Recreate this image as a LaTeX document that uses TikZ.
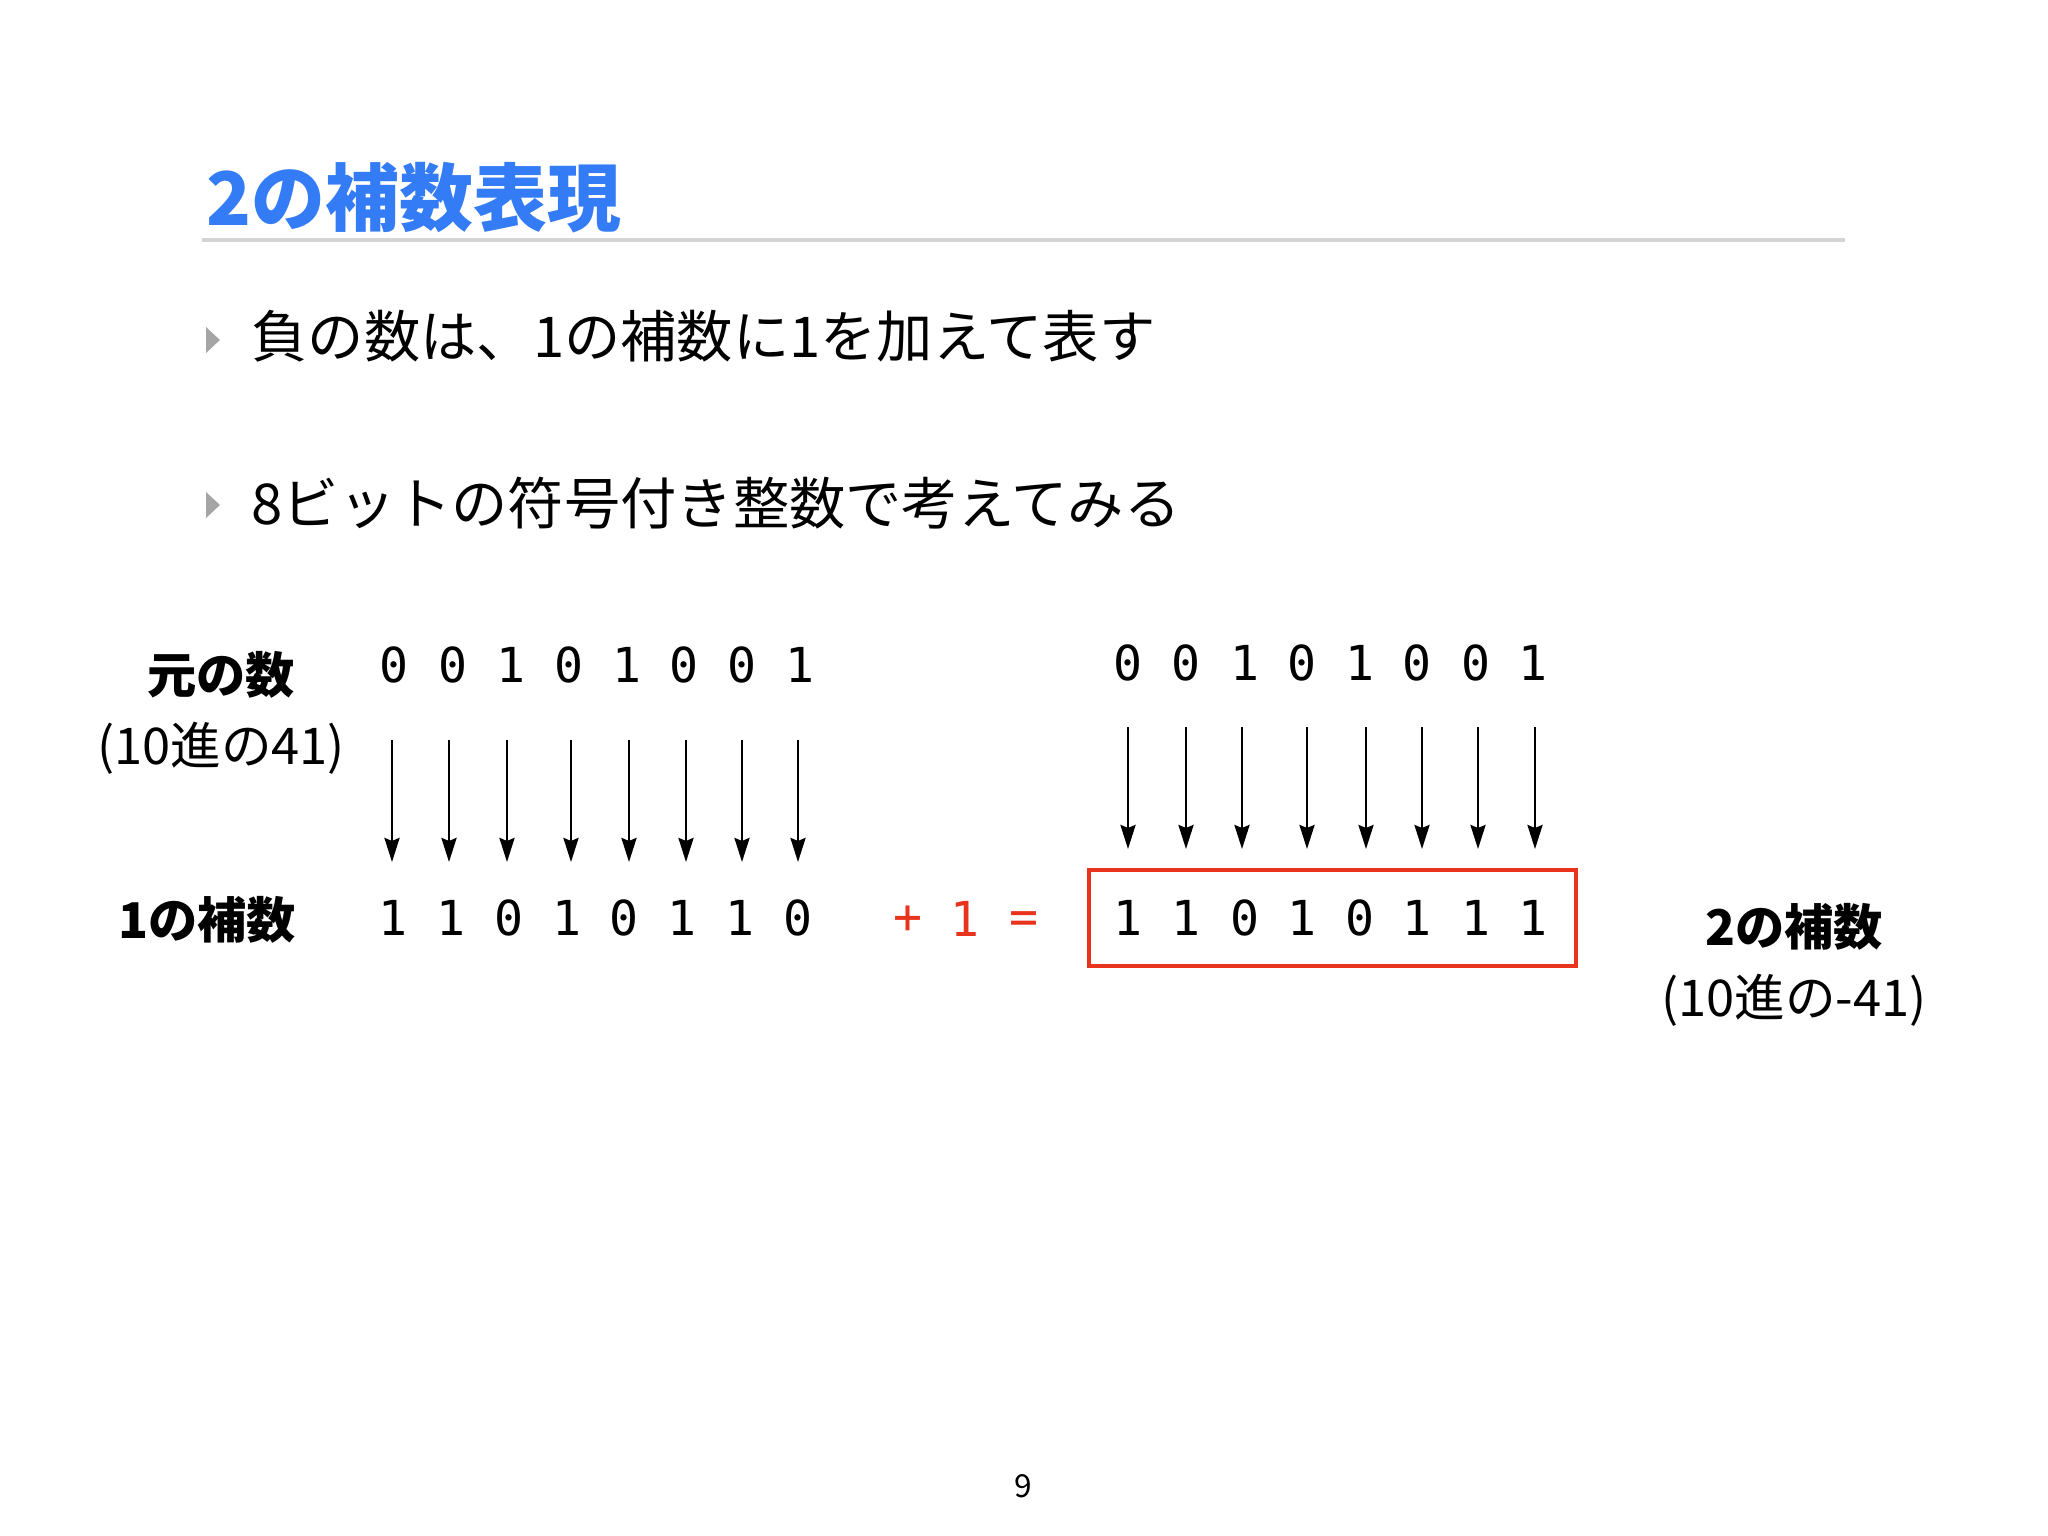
\documentclass[tikz,border=0pt]{standalone}
\usepackage{fontspec}
\setmainfont{Noto Sans CJK JP}
\newfontfamily\mono{DejaVu Sans Mono}
\usetikzlibrary{arrows.meta,calc}
\definecolor{titleblue}{RGB}{52,124,246}
\definecolor{rulegray}{RGB}{212,212,212}
\definecolor{bulletgray}{RGB}{165,165,165}
\definecolor{boxred}{RGB}{232,52,28}
\tikzset{
  titletext/.style={anchor=west,inner sep=0pt,text=titleblue,font=\fontsize{21pt}{25pt}\selectfont\bfseries},
  bullettext/.style={anchor=west,inner sep=0pt,font=\fontsize{16pt}{19pt}\selectfont},
  bulletmark/.style={fill=bulletgray,draw=none},
  labelbold/.style={inner sep=0pt,font=\fontsize{14pt}{17pt}\selectfont\bfseries},
  labelreg/.style={inner sep=0pt,font=\fontsize{14.4pt}{17pt}\selectfont},
  bit/.style={inner sep=0pt,font=\mono\fontsize{13.7pt}{16pt}\selectfont},
  redtext/.style={inner sep=0pt,text=boxred,font=\mono\fontsize{13.7pt}{16pt}\selectfont},
  arr/.style={line width=0.8pt,-{Stealth[length=0.24cm,width=0.15cm,inset=0.03cm]}},
  resultbox/.style={draw=boxred,line width=1.1pt,minimum width=4.87cm,minimum height=0.96cm,inner sep=0pt}
}
\begin{document}
\begin{tikzpicture}[x=0.01cm,y=-0.01cm]
\useasboundingbox[fill=white] (0,0) rectangle (2048,1536);
% title
\node[titletext] (title) at (206,198) {2の補数表現};
\draw[rulegray,line width=1pt] (202,240) -- (1845,240);
% bullets
\fill[bulletmark] (206,327) -- (220,340) -- (206,353) -- cycle;
\node[bullettext] (b1text) at (251,336) {負の数は、1の補数に1を加えて表す};
\fill[bulletmark] (206,492) -- (220,505) -- (206,518) -- cycle;
\node[bullettext] (b2text) at (251,503) {8ビットの符号付き整数で考えてみる};
% labels
\node[labelbold] (orig) at (221,675) {元の数};
\node[labelreg] (origdec) at (221,748) {(10進の41)};
\node[labelbold] (ones) at (207,920) {1の補数};
\node[labelbold] (twos) at (1794,927) {2の補数};
\node[labelreg] (twosdec) at (1794,1000) {(10進の-41)};
% left block
\foreach \i/\x/\d in {1/394/0,2/453/0,3/511/1,4/569/0,5/627/1,6/684/0,7/742/0,8/800/1}
  \node[bit] (lt\i) at (\x,665) {\d};
\foreach \i/\x/\d in {1/393/1,2/451/1,3/509/0,4/567/1,5/624/0,6/682/1,7/740/1,8/798/0}
  \node[bit] (lb\i) at (\x,918) {\d};
\foreach \i/\dx in {1/-2,2/-4,3/-4,4/2,5/2,6/2,7/0,8/-2}
  \draw[arr] ($(lt\i)+(\dx,75)$) -- ($(lt\i |- lb\i)+(\dx,-56)$);
% plus one
\node[redtext] (plus) at (908,920) {+};
\node[redtext] (one) at (965,919) {1};
\node[redtext] (eq) at (1024,923) {=};
% right block
\foreach \i/\x/\d in {1/1128/0,2/1186/0,3/1245/1,4/1302/0,5/1360/1,6/1417/0,7/1476/0,8/1533/1}
  \node[bit] (rt\i) at (\x,663) {\d};
\foreach \i/\x/\d in {1/1128/1,2/1186/1,3/1245/0,4/1302/1,5/1360/0,6/1417/1,7/1476/1,8/1533/1}
  \node[bit] (rb\i) at (\x,918) {\d};
\foreach \i/\dx in {1/0,2/0,3/-3,4/5,5/6,6/5,7/2,8/2}
  \draw[arr] ($(rt\i)+(\dx,64)$) -- ($(rt\i |- rb\i)+(\dx,-69)$);
\node[resultbox] (box) at (1332.5,918) {};
% page number
\node[inner sep=0pt,font=\fontsize{9pt}{11pt}\selectfont] (page) at (1023,1486) {9};
\end{tikzpicture}
\end{document}
